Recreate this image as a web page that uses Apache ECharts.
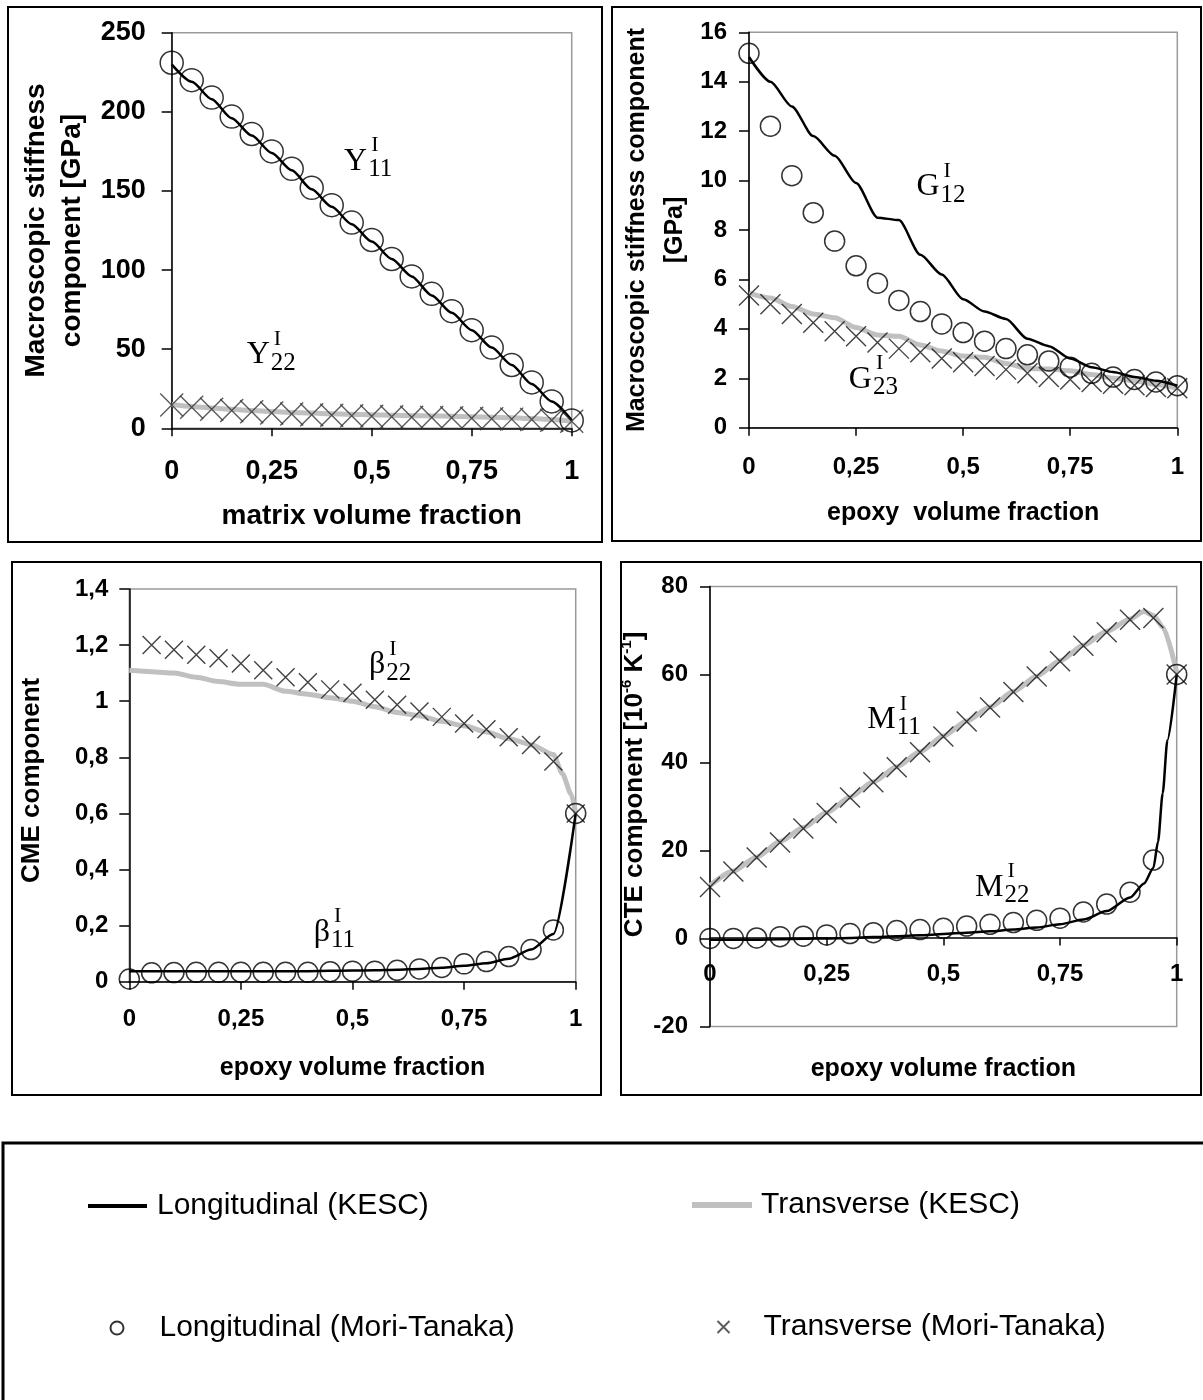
<!DOCTYPE html>
<html><head><meta charset="utf-8">
<script src="https://cdn.jsdelivr.net/npm/echarts@6/dist/echarts.min.js"></script>
<style>html,body{margin:0;padding:0;background:#fff}#c{width:1203px;height:1400px}</style>
</head><body><div id="c"></div>
<script>
// ---------- data ----------
const xFrac = [0,0.05,0.1,0.15,0.2,0.25,0.3,0.35,0.4,0.45,0.5,0.55,0.6,0.65,0.7,0.75,0.8,0.85,0.9,0.95,1];
const xTicks = [0,0.25,0.5,0.75,1];

// panel 1 : Y (matrix volume fraction)
const y11KESC = [230,219,208,196,185,174,163,151,140,129,118,107,96,84,73,62,51,40,28,17,5];
const y22KESC = [15,13.8,12.8,12,11.2,10.6,10,9.6,9.2,8.8,8.5,8.2,8,7.8,7.6,7.3,7,6.6,6.2,5.6,4.5];
const y11MT = [231,220,209,197,186,175,164,152,141,130,119,107,96,85,74,62,51,40,29,17,5];
const y22MT = [14.7,13.3,12.1,11.2,10.5,9.6,9.1,8.6,8.2,7.9,7.6,7.3,7.0,6.8,6.6,6.3,6.1,5.8,5.5,5.1,4.5];

// panel 2 : G
const g12KESC = [15.0,14.0,13.0,11.8,11.0,9.9,8.5,8.4,7.0,6.2,5.2,4.7,4.4,3.6,3.3,2.8,2.45,2.25,2.05,1.9,1.7];
const g23KESC = [5.45,5.25,4.9,4.6,4.45,4.05,3.75,3.7,3.35,3.1,2.9,2.85,2.6,2.4,2.38,2.3,2.15,2.0,1.9,1.75,1.6];
const g12MT = [15.15,12.2,10.2,8.7,7.55,6.55,5.85,5.15,4.7,4.2,3.85,3.5,3.2,2.95,2.7,2.45,2.2,2.05,1.95,1.85,1.7];
const g23MT = [5.35,5.0,4.6,4.25,3.9,3.7,3.45,3.2,3.05,2.8,2.65,2.5,2.35,2.2,2.05,1.95,1.85,1.78,1.72,1.65,1.6];

// panel 3 : beta (CME)
const b11KESC = [0.038,0.038,0.038,0.038,0.038,0.038,0.038,0.038,0.038,0.039,0.04,0.041,0.043,0.046,0.05,0.057,0.066,0.082,0.115,0.17,0.60];
const xB22K = [0,0.05,0.1,0.15,0.2,0.25,0.3,0.35,0.4,0.45,0.5,0.55,0.6,0.65,0.7,0.75,0.8,0.85,0.9,0.95,0.97,0.99,1];
const b22KESC = [1.11,1.105,1.10,1.085,1.07,1.06,1.06,1.035,1.025,1.012,1.0,0.98,0.96,0.948,0.928,0.912,0.89,0.866,0.845,0.81,0.742,0.668,0.60];
const b11MT = [0.01,0.032,0.033,0.034,0.034,0.034,0.034,0.034,0.034,0.036,0.038,0.038,0.041,0.046,0.051,0.064,0.072,0.09,0.115,0.185,0.60];
const b22MT = [null,1.20,1.183,1.165,1.153,1.134,1.11,1.085,1.067,1.042,1.03,1.005,0.987,0.963,0.944,0.92,0.90,0.871,0.844,0.785,0.60];

// panel 4 : M (CTE)
const xM11K = [0,0.05,0.1,0.15,0.2,0.25,0.3,0.35,0.4,0.45,0.5,0.55,0.6,0.65,0.7,0.75,0.8,0.85,0.9,0.93,0.95,0.97,1];
const m11KESC = [12,15.3,18.5,22,25.2,28.6,32.1,35.6,39,42.4,46,49.4,52.6,56.1,59.6,63.1,66.6,69.8,72.6,74.3,73.4,70.8,60.5];
const xM22K = [0,0.05,0.1,0.15,0.2,0.25,0.3,0.35,0.4,0.45,0.5,0.55,0.6,0.65,0.7,0.75,0.8,0.85,0.9,0.93,0.95,0.96,0.97,0.98,1];
const m22KESC = [-0.3,-0.3,-0.3,-0.2,-0.1,0,0.1,0.3,0.5,0.7,1.0,1.3,1.6,2.0,2.5,3.2,4.3,6.2,9.3,12.5,16,22,33,45,60];
const m11MT = [11.7,15.2,18.4,21.8,25.0,28.5,32.0,35.5,38.9,42.3,45.9,49.3,52.5,56.0,59.5,63.0,66.5,69.6,72.4,72.8,60.0];
const m22MT = [0,0,0.1,0.4,0.5,0.8,1.1,1.3,1.8,2.0,2.3,2.8,3.2,3.6,4.1,4.6,6.0,7.8,10.5,17.8,60];

// axes
const yMin = [0,0,0,-20];
const yMax = [250,16,1.4,80];
const yStep = [50,2,0.2,20];
const xNames = ['matrix volume fraction','epoxy  volume fraction','epoxy volume fraction','epoxy volume fraction'];
const yNames = ['Macroscopic stiffness\ncomponent [GPa]','Macroscopic stiffness component\n[GPa]','CME component','{a|CTE component [10}{s|-6}{a| K}{s|-1}{a|]}'];

// annotation labels (data coords of label anchor)
const annMain = ['Y','Y','G','G','β','β','M','M'];
const annSub = ['11','22','12','23','22','11','11','22'];
const annPanel = [0,0,1,1,2,2,3,3];
const annX = [0.431,0.1875,0.391,0.233,0.537,0.413,0.337,0.568];
const annY = [168.7,46.3,9.74,1.95,1.129,0.175,49.7,11.66];

const seriesNames = ['Longitudinal (KESC)','Transverse (KESC)','Longitudinal (Mori-Tanaka)','Transverse (Mori-Tanaka)'];

// ---------- build ----------
const SANS = '"Liberation Sans", Arial, sans-serif';
const SERIF = '"Liberation Serif", "Times New Roman", serif';
const CROSS = 'path://M0,0L10,10M10,0L0,10';

function pairs(xs, ys){ const out=[]; xs.forEach((x,i)=>{ if(ys[i]!==null && ys[i]!==undefined) out.push([x,ys[i]]); }); return out; }
function dec(v){ const r=Math.round(v*1000)/1000; return String(r).replace('.', ','); }

const grids = [
  {left:171.7, top:32.7, width:400, height:395.6},
  {left:749, top:32.3, width:428.3, height:395.4},
  {left:129.3, top:588.9, width:446.4, height:392.9},
  {left:710, top:586.4, width:466.7, height:440}
];
const xAxisOffset = [0,0,0,-88.9];
const tickFont = [27,24,24,24];
const xLabelMargin = [30,28,26,25];
const yLabelMargin = [26,22,21,22];
const xNameFont = [28,25,25,25];
const xNameGap = [74,73,74,119];
const yNameFont = [28,25,26,26];
const yNameLH = [36,38,30,30];
const yNameGap = [81,55,82,53];
const yNamePad = [0,0,10,44];
const symSize = [[23,23],[20,20],[20,18],[20,20]];

const lines = [
  [xFrac, y11KESC, xFrac, y22KESC, y11MT, y22MT],
  [xFrac, g12KESC, xFrac, g23KESC, g12MT, g23MT],
  [xFrac, b11KESC, xB22K, b22KESC, b11MT, b22MT],
  [xM22K, m22KESC, xM11K, m11KESC, m22MT, m11MT]
];

const xAxis = [], yAxis = [], series = [];
grids.forEach((g,p)=>{
  Object.assign(g, {show:true, borderColor:'#9a9a9a', borderWidth:1.5, backgroundColor:'transparent', containLabel:false});
  xAxis.push({
    type:'value', gridIndex:p, min:0, max:1, interval:0.25, position:'bottom', offset:xAxisOffset[p],
    name:xNames[p], nameLocation:'middle', nameGap:xNameGap[p],
    nameTextStyle:{fontFamily:SANS, fontWeight:'bold', fontSize:xNameFont[p], color:'#000'},
    axisLine:{show:true, onZero:false, lineStyle:{color:'#000', width:1.5}},
    axisTick:{show:true, length:8, lineStyle:{color:'#000', width:1.5}},
    axisLabel:{fontFamily:SANS, fontWeight:'bold', fontSize:tickFont[p], color:'#000', margin:xLabelMargin[p], formatter:dec, showMinLabel:true, showMaxLabel:true},
    splitLine:{show:false}
  });
  const yname = {
    type:'value', gridIndex:p, min:yMin[p], max:yMax[p], interval:yStep[p],
    name:yNames[p], nameLocation:'middle', nameGap:yNameGap[p],
    nameTextStyle:{fontFamily:SANS, fontWeight:'bold', fontSize:yNameFont[p], lineHeight:yNameLH[p], color:'#000', padding:[0,0,0,yNamePad[p]]},
    axisLine:{show:true, onZero:false, lineStyle:{color:'#000', width:1.5}},
    axisTick:{show:true, length:10, lineStyle:{color:'#000', width:1.5}},
    axisLabel:{fontFamily:SANS, fontWeight:'bold', fontSize:tickFont[p], color:'#000', margin:yLabelMargin[p], formatter:dec},
    splitLine:{show:false}
  };
  if(p===3){
    yname.nameTextStyle.rich = {
      a:{fontFamily:SANS, fontWeight:'bold', fontSize:26, lineHeight:30, color:'#000'},
      s:{fontFamily:SANS, fontWeight:'bold', fontSize:15, lineHeight:30, verticalAlign:'top', color:'#000'}
    };
  }
  yAxis.push(yname);
  const L = lines[p];
  series.push({
    name:seriesNames[1], type:'line', xAxisIndex:p, yAxisIndex:p, data:pairs(L[2],L[3]),
    symbol:'none', showSymbol:false, smooth:0.25, smoothMonotone:'x', lineStyle:{color:'#c0c0c0', width:5}, itemStyle:{color:'#c0c0c0'}, z:2, silent:true
  });
  series.push({
    name:seriesNames[0], type:'line', xAxisIndex:p, yAxisIndex:p, data:pairs(L[0],L[1]),
    symbol:'none', showSymbol:false, smooth:0.25, smoothMonotone:'x', lineStyle:{color:'#000', width:2.5}, itemStyle:{color:'#000'}, z:3, silent:true
  });
  series.push({
    name:seriesNames[3], type:'scatter', xAxisIndex:p, yAxisIndex:p, data:pairs(xFrac,L[5]),
    symbol:CROSS, symbolSize:symSize[p][1], itemStyle:{color:'none', borderColor:p===0?'#333':'#111', borderWidth:1.4}, z:4, silent:true
  });
  series.push({
    name:seriesNames[2], type:'scatter', xAxisIndex:p, yAxisIndex:p, data:pairs(xFrac,L[4]),
    symbol:'circle', symbolSize:symSize[p][0], itemStyle:{color:'none', borderColor:'#000', borderWidth:1.5}, z:5, silent:true
  });
});

const legTxt = {fontFamily:SANS, fontSize:30, color:'#000', lineHeight:32};
function leg(item, left, top, w, h, pad){
  return {data:[item], left:left, top:top, itemWidth:w, itemHeight:h, padding:0, selectedMode:false,
    textStyle:Object.assign({padding:[0,0,0,pad]}, legTxt)};
}
const legend = [
  leg({name:seriesNames[0], icon:'rect', itemStyle:{color:'#000'}}, 88, 1190, 59, 4, 5),
  leg({name:seriesNames[1], icon:'rect', itemStyle:{color:'#c0c0c0'}}, 692, 1189, 60, 6, 4),
  leg({name:seriesNames[2]}, 108, 1312, 13, 15, 31),
  leg({name:seriesNames[3]}, 715, 1311, 12, 17, 29)
];

const chart = echarts.init(document.getElementById('c'));
chart.setOption({animation:false, backgroundColor:'#fff', grid:grids, xAxis, yAxis, series, legend});

// frames and annotations
const graphic = [];
const boxes = [[8,7,594,535],[612,7,589,534],[12,562,589,533],[621,562,580,533]];
boxes.forEach(b=>graphic.push({type:'rect', shape:{x:b[0],y:b[1],width:b[2],height:b[3]}, style:{fill:'none', stroke:'#000', lineWidth:2}, z:-1, silent:true}));
graphic.push({type:'rect', shape:{x:3,y:1143,width:1215,height:300}, style:{fill:'none', stroke:'#000', lineWidth:3}, z:-1, silent:true});

const ctx = document.createElement('canvas').getContext('2d');
ctx.font = '32px "Liberation Serif"';
annMain.forEach((m,i)=>{
  const pt = chart.convertToPixel({gridIndex:annPanel[i]}, [annX[i], annY[i]]);
  const w = ctx.measureText(m).width;
  const base = {fill:'#000', textVerticalAlign:'middle', verticalAlign:'middle', textAlign:'left', align:'left'};
  graphic.push({type:'text', x:pt[0], y:pt[1], silent:true, z:10, style:Object.assign({text:m, font:'32px '+SERIF}, base)});
  graphic.push({type:'text', x:pt[0]+w+1, y:pt[1]+8, silent:true, z:10, style:Object.assign({text:annSub[i], font:'25px '+SERIF}, base)});
  graphic.push({type:'text', x:pt[0]+w+4, y:pt[1]-16, silent:true, z:10, style:Object.assign({text:'I', font:'22px '+SERIF}, base)});
});
chart.setOption({graphic:graphic});
</script>
</body></html>
